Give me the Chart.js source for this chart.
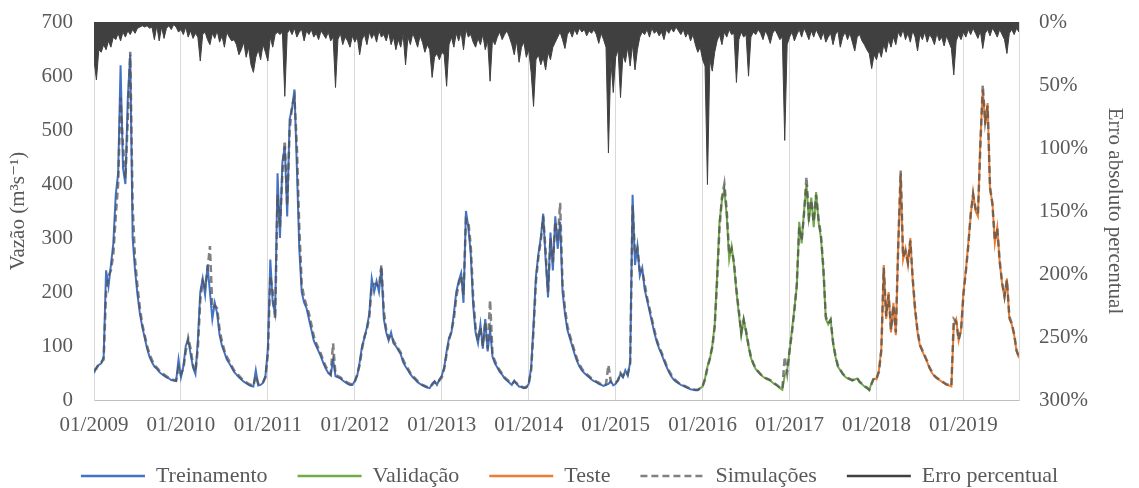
<!DOCTYPE html>
<html lang="pt">
<head>
<meta charset="utf-8">
<title>Vazão observada e simulada</title>
<script src="https://cdn.jsdelivr.net/npm/chart.js@4.4.1/dist/chart.umd.min.js"></script>
<style>
html,body{margin:0;padding:0;background:#fff;}
#wrap{width:1139px;height:488px;position:relative;}
</style>
</head>
<body>
<div id="wrap"><canvas id="grafico"></canvas></div>
<script>

/* ===============================
   DADOS (amostras a cada ~10 dias, 3 por mês, desde 01/2009)
=============================== */

const anoInicial = 2009;
const passosPorAno = 36;
const anosTicks = [2009,2010,2011,2012,2013,2014,2015,2016,2017,2018,2019];

// vazão observada - treinamento (2009 a 2015)
const treino = [
50,60,65,68,80,240,210,250,290,380,420,620,430,400,560,640,300,240,195,160,135,115,95,80,70,62,58,52,48,45,42,40,37,36,35,75,
42,62,100,112,85,60,48,110,200,225,195,250,200,150,180,160,120,100,88,75,68,60,52,47,42,38,34,31,28,26,25,55,27,28,32,45,
95,260,180,160,420,300,440,470,340,520,540,575,430,280,200,180,170,150,130,110,100,90,80,68,58,50,46,75,44,42,40,36,33,30,28,28,
35,45,70,100,115,135,160,225,200,220,200,245,150,125,110,125,105,100,92,85,70,62,55,48,42,38,33,30,27,25,23,22,30,35,28,38,
45,60,90,115,125,160,200,220,235,180,350,320,270,175,125,105,140,95,150,90,130,80,68,60,52,47,40,36,32,28,36,30,25,24,22,23,
30,60,140,230,270,300,345,260,190,310,240,340,280,330,200,160,130,115,100,85,72,62,55,50,46,42,38,35,33,30,28,26,28,30,35,27,
30,38,48,42,55,45,70,380,250,285,230,245,205,185,165,145,125,108,95,85,73,62,52,44,38,34,31,28,26,24,22,20,19,18,18,22
];

// vazão observada - validação (2016 a 2017)
const validacao = [
25,40,62,75,100,140,230,330,370,390,340,260,285,250,200,160,120,150,125,100,78,66,57,52,47,43,40,38,36,32,29,26,22,19,45,55,
90,130,170,210,330,290,350,400,330,375,320,385,330,300,240,150,140,150,105,80,62,55,48,43,40,38,36,38,40,33,29,25,22,18,32,40
];

// vazão observada - teste (2018 a 08/2019)
const teste = [
38,55,95,250,150,200,125,180,120,290,420,260,280,250,300,220,165,125,100,90,80,70,58,50,44,40,37,34,31,28,27,25,140,150,110,130,
200,240,290,340,385,350,340,480,575,510,550,390,365,290,320,255,215,190,225,150,140,120,90,78
];

// vazão simulada (todo o período)
const simulada = [
55,58,68,70,75,200,230,240,270,340,400,560,470,410,520,645,360,260,210,170,140,120,100,85,74,65,60,55,50,47,44,41,39,37,36,60,
48,58,90,115,95,65,52,95,185,220,210,240,285,170,175,170,130,108,92,80,72,63,55,50,45,40,36,33,30,28,26,45,30,29,33,42,
85,230,200,150,380,320,420,480,360,500,545,560,470,320,215,190,175,160,140,118,105,95,85,72,62,54,48,105,47,44,42,38,35,32,30,29,
34,48,65,95,118,130,155,210,215,215,210,250,165,130,115,120,110,102,95,88,75,65,58,50,44,40,35,31,28,26,24,23,28,33,30,36,
42,58,85,110,128,150,190,215,230,195,335,330,285,190,135,110,135,100,145,95,185,85,72,62,55,49,42,38,34,30,34,31,27,25,23,24,
30,55,130,220,265,295,340,275,200,300,255,330,295,365,215,170,138,120,105,90,76,66,58,52,48,44,40,37,34,32,29,27,29,65,33,30,
32,36,50,44,52,48,68,360,270,280,240,240,215,190,170,150,130,112,98,88,76,65,55,47,40,36,32,29,27,25,23,21,20,19,19,21,
26,38,60,78,98,135,220,320,375,400,350,270,280,255,205,165,125,148,128,102,80,68,58,53,48,44,41,39,37,33,30,27,23,20,80,50,
92,125,165,215,320,295,345,413,340,370,330,380,335,305,245,155,142,148,108,82,64,56,49,44,41,39,37,39,41,34,30,26,23,19,30,42,
40,52,92,245,155,195,130,175,125,285,425,265,275,255,295,225,168,128,102,92,82,72,60,52,45,41,38,35,32,29,28,26,150,145,112,128,
195,238,285,345,380,355,345,470,583,515,545,395,362,295,318,258,218,192,222,155,142,122,92,80
];

// erro absoluto percentual (%)
const erroPct = [
30,46,22,24,18,22,15,20,12,14,9,15,8,12,7,10,6,9,5,4,3,4,3,5,4,14,3,15,4,13,5,3,6,2,4,8,
6,10,4,12,7,13,9,12,31,10,8,14,18,9,13,7,16,11,20,8,12,15,14,18,26,22,16,28,20,34,40,28,22,30,18,24,
31,12,20,10,8,10,8,59,9,6,10,5,12,8,6,15,7,10,6,12,9,14,7,10,13,8,15,12,52,14,9,18,12,15,20,11,
16,12,26,14,10,18,8,13,9,16,7,12,10,15,8,18,12,22,14,20,10,34,12,18,9,14,20,11,16,24,18,22,44,28,25,30,
24,26,51,18,12,20,9,15,8,22,6,12,10,16,20,13,18,10,22,15,47,14,18,12,8,14,10,7,12,18,26,15,32,20,16,28,
22,40,67,30,26,34,28,38,24,30,20,16,12,8,14,21,10,7,12,6,10,5,8,6,11,7,9,6,10,17,9,14,20,104,30,56,
28,22,60,26,32,20,35,18,38,22,12,8,10,6,12,5,9,7,11,8,14,6,9,5,8,4,7,10,6,12,8,15,10,18,24,20,
30,35,129,30,39,24,15,10,18,8,12,6,10,9,48,14,8,12,10,43,12,8,10,6,9,14,7,11,17,9,6,10,14,12,94,18,
12,8,15,10,6,12,5,9,14,7,12,6,10,14,8,16,12,9,18,10,7,20,12,8,14,9,16,23,12,10,15,18,22,25,37,26,
30,22,28,18,24,14,20,12,18,8,12,6,14,9,16,7,12,23,10,14,8,16,10,13,18,9,15,12,19,11,16,21,42,15,10,14,
8,12,6,10,5,9,13,7,21,9,6,11,5,8,12,6,10,14,25,9,6,10,5,8
];


/* ===============================
   PONTOS
=============================== */

function toPoints(values, k0){
return values.map((v,i)=>({ x: anoInicial + (k0+i)/passosPorAno, y: v }));
}

const observada = treino.concat(validacao, teste);
const obsPts = toPoints(observada, 0);
const nT = treino.length;
const nV = validacao.length;

// cada trecho começa no último ponto do anterior para a linha ficar contínua
const treinoPts = obsPts.slice(0, nT);
const validacaoPts = obsPts.slice(nT-1, nT+nV);
const testePts = obsPts.slice(nT+nV-1);
const simPts = toPoints(simulada, 0);
const erroPts = toPoints(erroPct, 0);

const xMax = anoInicial + (observada.length-1)/passosPorAno;


/* ===============================
   GRÁFICO
=============================== */

const fonte = "'Liberation Serif', 'DejaVu Serif', serif";
const cinzaTexto = "#595959";

Chart.defaults.font.family = fonte;
Chart.defaults.color = cinzaTexto;

new Chart(document.getElementById("grafico"), {
    type: "line",
    data: {
        datasets: [
            {
                label: "Treinamento",
                data: treinoPts,
                borderColor: "#4472C4",
                backgroundColor: "#4472C4",
                borderWidth: 2,
                order: 1
            },
            {
                label: "Validação",
                data: validacaoPts,
                borderColor: "#70AD47",
                backgroundColor: "#70AD47",
                borderWidth: 2,
                order: 1
            },
            {
                label: "Teste",
                data: testePts,
                borderColor: "#ED7D31",
                backgroundColor: "#ED7D31",
                borderWidth: 2,
                order: 1
            },
            {
                label: "Simulações",
                data: simPts,
                borderColor: "rgba(80,80,80,0.72)",
                backgroundColor: "rgba(80,80,80,0.72)",
                borderWidth: 2.5,
                borderDash: [7,4],
                order: 0
            },
            {
                label: "Erro percentual",
                data: erroPts,
                yAxisID: "y1",
                borderColor: "#404040",
                backgroundColor: "#404040",
                borderWidth: 1,
                fill: "origin",
                order: 2
            }
        ]
    },
    options: {
        responsive: true,
        maintainAspectRatio: false,
        animation: false,
        elements: {
            point: { radius: 0, hoverRadius: 0 },
            line: { tension: 0 }
        },
        layout: { padding: { left: 0, right: 0, top: 22, bottom: 0 } },
        plugins: {
            tooltip: { enabled: false },
            legend: {
                position: "bottom",
                maxHeight: 53,
                labels: {
                    boxWidth: 64,
                    boxHeight: 0,
                    padding: 30,
                    color: cinzaTexto,
                    font: { size: 22, family: fonte },
                    sort: (a,b) => a.datasetIndex - b.datasetIndex,
                    generateLabels: chart =>
                        Chart.defaults.plugins.legend.labels.generateLabels(chart)
                        .map(item => Object.assign(item, { lineWidth: 2.5 }))
                }
            }
        },
        scales: {
            x: {
                type: "linear",
                min: anoInicial,
                max: xMax,
                afterBuildTicks: s => { s.ticks = anosTicks.map(v => ({ value: v })); },
                afterFit: s => { s.height = 35; },
                grid: { color: "#d9d9d9", drawTicks: false },
                border: { color: "#bfbfbf" },
                ticks: {
                    autoSkip: false,
                    maxRotation: 0,
                    padding: 15,
                    font: { size: 21, lineHeight: 1 },
                    callback: v => "01/" + v
                }
            },
            y: {
                position: "left",
                min: 0,
                max: 700,
                afterFit: s => { s.width = 94; },
                // grade escondida, mas o tickLength afasta os rótulos do eixo
                grid: { display: false, drawTicks: true, tickLength: 13 },
                border: { color: "#d9d9d9" },
                ticks: { stepSize: 100, padding: 8, font: { size: 21 } },
                title: {
                    display: true,
                    text: "Vazão (m³s⁻¹)",
                    font: { size: 21 },
                    padding: { top: 6, bottom: 0 }
                }
            },
            y1: {
                position: "right",
                min: 0,
                max: 300,
                reverse: true,
                afterFit: s => { s.width = 120; },
                grid: { display: false, drawTicks: true, tickLength: 12 },
                border: { color: "#d9d9d9" },
                ticks: {
                    stepSize: 50,
                    padding: 8,
                    font: { size: 21 },
                    callback: v => v + "%"
                },
                title: {
                    display: true,
                    text: "Erro absoluto percentual",
                    font: { size: 21 },
                    padding: { top: 12, bottom: 0 }
                }
            }
        }
    }
});

</script>
</body>
</html>
